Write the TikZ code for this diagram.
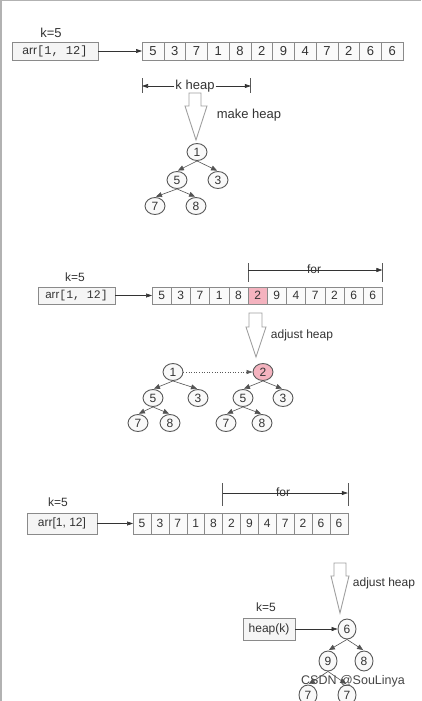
\documentclass[tikz,border=0pt]{standalone}
\usepackage{fontspec}
\setmainfont{Liberation Sans}
\setmonofont{Liberation Mono}
\usetikzlibrary{arrows.meta,positioning,shapes.geometric}

\definecolor{ink}{HTML}{333333}
\definecolor{frame}{HTML}{8A8A8A}
\definecolor{hot}{HTML}{F4B3BF}

\tikzset{
  txt/.style={text=ink, inner sep=1pt},
  cell/.style={draw=frame, fill=gray!4, text=ink, anchor=west, inner sep=0pt, outer sep=0pt},
  arrbox/.style={draw=frame, fill=gray!8, text=ink, inner sep=0pt, outer sep=0pt},
  hnode/.style={ellipse, draw=gray!70!black, line width=0.9pt, fill=gray!5, text=ink,
    inner sep=0pt, minimum width=20pt, minimum height=17pt},
  link/.style={draw=ink, line width=0.6pt, -{Triangle[length=6pt,width=4pt]}},
  heapedge/.style={draw=gray!65!black, line width=0.6pt, -{Triangle[length=6pt,width=5pt]}, shorten >=1pt},
  bigarrow/.style={draw=gray!75, fill=white, line width=0.9pt},
  tick/.style={draw=gray!70!black, line width=0.6pt}
}

\begin{document}
\begin{tikzpicture}[x=1pt,y=-1pt]
\useasboundingbox (0,0) rectangle (421,701);
\clip (0,0) rectangle (421,701);
\fill[white] (0,0) rectangle (421,701);
% page frame
\draw[gray!60, line width=2pt] (1,0) -- (1,701);
\draw[gray!60, line width=1pt] (0,0.5) -- (421,0.5);

% ---- make heap ----
\node[txt, font=\fontsize{13}{15}\selectfont] (k1) at (51,33) {k=5};
\node[arrbox, minimum width=86pt, minimum height=18pt, font=\fontsize{12}{14}\selectfont] (arr1) at (55,51) {arr\texttt{[1, 12]}};
\foreach \v [count=\i] in {5,3,7,1,8,2,9,4,7,2,6,6}
  \node[cell, minimum width=21.75pt, minimum height=18pt, font=\fontsize{13}{15}\selectfont] (ra\i) at ({142+(\i-1)*21.75},51) {\v};
\draw[link] (arr1) -- (ra1);

\draw[tick] (142,78) -- (142,93);
\draw[tick] (250.75,78) -- (250.75,93);
\node[txt, font=\fontsize{13}{15}\selectfont] (kh) at (195,86) {k heap};
\coordinate (khl) at (142,86);
\coordinate (khr) at (250.75,86);
\draw[link] (kh) -- (khl);
\draw[link] (kh) -- (khr);

\draw[bigarrow] (189,93) -- (201,93) -- (201,106) -- (207,106) -- (196,140) -- (185,106) -- (189,106) -- cycle;
\node[txt, font=\fontsize{13}{15}\selectfont] (mh) at (249,115) {make heap};

\node[hnode, font=\fontsize{12}{14}\selectfont] (a1) at (197,152) {1};
\node[hnode, font=\fontsize{12}{14}\selectfont] (a5) at (177,180) {5};
\node[hnode, font=\fontsize{12}{14}\selectfont] (a3) at (218,180) {3};
\node[hnode, font=\fontsize{12}{14}\selectfont] (a7) at (155,206) {7};
\node[hnode, font=\fontsize{12}{14}\selectfont] (a8) at (196,206) {8};
\draw[heapedge] (a1.south) -- (a5.north);
\draw[heapedge] (a1.south) -- (a3.north);
\draw[heapedge] (a5.south) -- (a7.north);
\draw[heapedge] (a5.south) -- (a8.north);

% ---- adjust heap, first step ----
\node[txt, font=\fontsize{12}{14}\selectfont] (k2) at (75,277) {k=5};
\node[arrbox, minimum width=77pt, minimum height=17pt, font=\fontsize{11.5}{13}\selectfont] (arr2) at (76.5,295.5) {arr\texttt{[1, 12]}};
\foreach \v [count=\i] in {5,3,7,1,8,2,9,4,7,2,6,6}
  \node[cell, minimum width=19.2pt, minimum height=17pt, font=\fontsize{12}{14}\selectfont] (rb\i) at ({152+(\i-1)*19.2},295.5) {\v};
\node[cell, fill=hot, minimum width=19.2pt, minimum height=17pt, font=\fontsize{12}{14}\selectfont] at (rb6.west) {2};
\draw[link] (arr2) -- (rb1);

\draw[tick] (248,263) -- (248,282);
\draw[tick] (382.4,263) -- (382.4,282);
\coordinate (fbl) at (248,270);
\coordinate (fbr) at (382.4,270);
\draw[link] (fbl) -- (fbr);
\node[txt, font=\fontsize{12}{14}\selectfont] (fb) at (314,269) {for};

\draw[bigarrow] (249,313) -- (262,313) -- (262,327) -- (266,327) -- (256,357) -- (246,327) -- (249,327) -- cycle;
\node[txt, font=\fontsize{12}{14}\selectfont] (ah2) at (302,335) {adjust heap};

\node[hnode, font=\fontsize{12}{14}\selectfont] (b1) at (173,372) {1};
\node[hnode, font=\fontsize{12}{14}\selectfont] (b5) at (153,398) {5};
\node[hnode, font=\fontsize{12}{14}\selectfont] (b3) at (198,398) {3};
\node[hnode, font=\fontsize{12}{14}\selectfont] (b7) at (138,423) {7};
\node[hnode, font=\fontsize{12}{14}\selectfont] (b8) at (170,423) {8};
\draw[heapedge] (b1.south) -- (b5.north);
\draw[heapedge] (b1.south) -- (b3.north);
\draw[heapedge] (b5.south) -- (b7.north);
\draw[heapedge] (b5.south) -- (b8.north);

\node[hnode, fill=hot, font=\fontsize{12}{14}\selectfont] (c2) at (263,372) {2};
\node[hnode, font=\fontsize{12}{14}\selectfont] (c5) at (243,398) {5};
\node[hnode, font=\fontsize{12}{14}\selectfont] (c3) at (283,398) {3};
\node[hnode, font=\fontsize{12}{14}\selectfont] (c7) at (226,423) {7};
\node[hnode, font=\fontsize{12}{14}\selectfont] (c8) at (262,423) {8};
\draw[heapedge] (c2.south) -- (c5.north);
\draw[heapedge] (c2.south) -- (c3.north);
\draw[heapedge] (c5.south) -- (c7.north);
\draw[heapedge] (c5.south) -- (c8.north);
\draw[link, dotted, draw=gray!70!black] (b1) -- (c2);

% ---- adjust heap, loop ----
\node[txt, font=\fontsize{12}{14}\selectfont] (k3) at (58,502) {k=5};
\node[arrbox, minimum width=70pt, minimum height=21pt, font=\fontsize{12}{14}\selectfont] (arr3) at (62,523.5) {arr[1, 12]};
\foreach \v [count=\i] in {5,3,7,1,8,2,9,4,7,2,6,6}
  \node[cell, minimum width=17.9pt, minimum height=21pt, font=\fontsize{12}{14}\selectfont] (rc\i) at ({133+(\i-1)*17.9},523.5) {\v};
\draw[link] (arr3) -- (rc1);

\draw[tick] (222.5,483) -- (222.5,506);
\draw[tick] (347.8,483) -- (347.8,506);
\coordinate (fcl) at (222.5,493);
\coordinate (fcr) at (347.8,493);
\draw[link] (fcl) -- (fcr);
\node[txt, font=\fontsize{12}{14}\selectfont] (fc) at (283,492) {for};

\draw[bigarrow] (334,563) -- (346,563) -- (346,576) -- (349,576) -- (340,613) -- (331,576) -- (334,576) -- cycle;
\node[txt, font=\fontsize{12}{14}\selectfont] (ah3) at (384,583) {adjust heap};

\node[txt, font=\fontsize{12}{14}\selectfont] (k4) at (266,607) {k=5};
\node[arrbox, minimum width=52pt, minimum height=22pt, font=\fontsize{12}{14}\selectfont] (hk) at (269,629) {heap(k)};
\node[hnode, minimum width=18pt, minimum height=20pt, font=\fontsize{12}{14}\selectfont] (d6) at (347,629) {6};
\node[hnode, minimum width=18pt, minimum height=20pt, font=\fontsize{12}{14}\selectfont] (d9) at (328,661) {9};
\node[hnode, minimum width=18pt, minimum height=20pt, font=\fontsize{12}{14}\selectfont] (d8) at (364,661) {8};
\node[hnode, minimum width=18pt, minimum height=20pt, font=\fontsize{12}{14}\selectfont] (d7a) at (308,695) {7};
\node[hnode, minimum width=18pt, minimum height=20pt, font=\fontsize{12}{14}\selectfont] (d7b) at (347,695) {7};
\draw[link] (hk) -- (d6);
\draw[heapedge] (d6.south) -- (d9.north);
\draw[heapedge] (d6.south) -- (d8.north);
\draw[heapedge] (d9.south) -- (d7a.north);
\draw[heapedge] (d9.south) -- (d7b.north);

\node[text=gray!55!black, inner sep=0pt, font=\fontsize{12.5}{14}\selectfont] (wm) at (353,681) {CSDN @SouLinya};
\end{tikzpicture}
\end{document}
